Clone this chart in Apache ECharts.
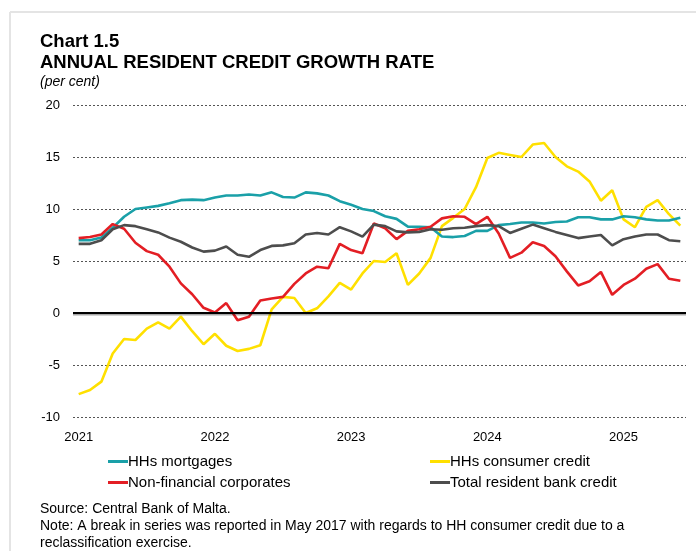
<!DOCTYPE html>
<html>
<head>
<meta charset="utf-8">
<script src="https://cdn.jsdelivr.net/npm/echarts@6/dist/echarts.min.js"></script>
<style>
html,body{margin:0;padding:0;background:#fff;}
#chart{width:696px;height:551px;}
</style>
</head>
<body>
<div id="chart"></div>
<script>
// Monthly categories Jan 2021 .. Jun 2025
const years = ['2021','2022','2023','2024','2025'];
const months = [];
for (const y of years) {
  for (let m = 1; m <= 12; m++) {
    if (y === '2025' && m > 6) break;
    months.push(y + '-' + String(m).padStart(2, '0'));
  }
}
const yTicks = [-10, -5, 0, 5, 10, 15, 20];

const mortgages = [7.0,7.0,7.25,8.2,9.25,10.0,10.15,10.3,10.55,10.85,
  10.9,10.85,11.1,11.3,11.3,11.4,11.3,11.6,11.15,11.1,
  11.6,11.5,11.3,10.75,10.4,10.0,9.8,9.3,9.05,8.3,
  8.3,8.25,7.35,7.3,7.4,7.9,7.9,8.45,8.55,8.7,
  8.7,8.6,8.75,8.8,9.2,9.2,9.0,9.0,9.3,9.2,
  9.0,8.9,8.9,9.15];
const consumer = [-7.8,-7.4,-6.6,-3.9,-2.5,-2.6,-1.5,-0.9,-1.5,-0.35,
  -1.75,-3.0,-2.0,-3.15,-3.65,-3.45,-3.1,0.35,1.55,1.45,
  0.0,0.45,1.6,2.9,2.25,3.8,5.0,4.9,5.75,2.7,
  3.8,5.3,8.35,9.15,10.0,12.1,14.9,15.4,15.2,15.0,
  16.2,16.35,15.0,14.1,13.6,12.65,10.8,11.8,9.0,8.25,
  10.2,10.85,9.5,8.4];
const nfc = [7.2,7.3,7.55,8.55,8.1,6.75,5.95,5.6,4.45,2.85,
  1.8,0.5,0.05,0.95,-0.7,-0.35,1.2,1.4,1.55,2.8,
  3.8,4.45,4.3,6.65,6.05,5.75,8.6,8.15,7.1,7.9,
  8.05,8.3,9.1,9.3,9.25,8.55,9.25,7.65,5.3,5.8,
  6.8,6.45,5.45,4.0,2.65,3.05,3.95,1.75,2.7,3.3,
  4.25,4.7,3.3,3.1];
const total = [6.65,6.65,7.0,8.05,8.45,8.35,8.05,7.75,7.25,6.85,
  6.3,5.9,6.0,6.4,5.6,5.4,6.05,6.45,6.5,6.7,
  7.55,7.7,7.55,8.25,7.85,7.35,8.5,8.35,7.85,7.75,
  7.8,8.05,8.0,8.15,8.2,8.35,8.45,8.35,7.7,8.1,
  8.5,8.15,7.8,7.5,7.2,7.35,7.5,6.5,7.1,7.35,
  7.55,7.55,7.0,6.9];

const names = ['HHs mortgages','HHs consumer credit','Non-financial corporates','Total resident bank credit'];
const colors = ['#1AA0A8','#FFE000','#E31E24','#4D4D4D'];
const dataSets = [mortgages, consumer, nfc, total];
const FONT = '"Liberation Sans", Arial, sans-serif';

const chart = echarts.init(document.getElementById('chart'));

const series = dataSets.map((d, i) => ({
  name: names[i],
  type: 'line',
  data: d,
  symbol: 'none',
  smooth: false,
  lineStyle: { color: colors[i], width: 2.6 },
  itemStyle: { color: colors[i] },
  z: [3, 2, 4, 5][i]
}));
// zero line
series[0].markLine = {
  silent: true,
  symbol: 'none',
  label: { show: false },
  lineStyle: { color: '#000', width: 2, type: 'solid', shadowColor: 'rgba(0,0,0,0.35)', shadowOffsetY: 1.5, shadowBlur: 0 },
  data: [{ yAxis: 0 }]
};

const legendText = { fontFamily: FONT, fontSize: 15, color: '#000', padding: [0, 0, 0, -5] };

chart.setOption({
  animation: false,
  backgroundColor: '#fff',
  grid: { left: 73, right: 10, top: 105, bottom: 134, containLabel: false },
  xAxis: {
    type: 'category',
    data: months,
    boundaryGap: true,
    axisLine: { show: false },
    axisTick: { show: false },
    axisLabel: {
      interval: 11,
      margin: 14,
      fontFamily: FONT, fontSize: 13, color: '#000',
      formatter: v => v.slice(0, 4)
    },
    splitLine: { show: false }
  },
  yAxis: {
    type: 'value',
    min: yTicks[0], max: yTicks[yTicks.length - 1], interval: 5,
    axisLine: { show: false },
    axisTick: { show: false },
    axisLabel: { margin: 13, fontFamily: FONT, fontSize: 13, color: '#000' },
    splitLine: { lineStyle: { color: '#555', width: 1, type: [2, 2] } }
  },
  legend: [
    {
      left: 103, top: 449, orient: 'vertical', itemGap: 6,
      itemWidth: 20, itemHeight: 3, icon: 'rect',
      data: [names[0], names[2]], textStyle: legendText
    },
    {
      left: 425, top: 449, orient: 'vertical', itemGap: 6,
      itemWidth: 20, itemHeight: 3, icon: 'rect',
      data: [names[1], names[3]], textStyle: legendText
    }
  ],
  graphic: [
    { type: 'line', shape: { x1: 10, y1: 12, x2: 696, y2: 12 }, style: { stroke: '#e4e4e4', lineWidth: 2 } },
    { type: 'line', shape: { x1: 10, y1: 12, x2: 10, y2: 551 }, style: { stroke: '#e4e4e4', lineWidth: 2 } },
    { type: 'text', left: 40, top: 32, style: { text: 'Chart 1.5', font: 'bold 18.5px ' + FONT, fill: '#000' } },
    { type: 'text', left: 40, top: 53, style: { text: 'ANNUAL RESIDENT CREDIT GROWTH RATE', font: 'bold 18.5px ' + FONT, fill: '#000' } },
    { type: 'text', left: 40, top: 75, style: { text: '(per cent)', font: 'italic 14px ' + FONT, fill: '#000' } },
    { type: 'text', left: 40, top: 502, style: { text: 'Source: Central Bank of Malta.', font: '14px ' + FONT, fill: '#000' } },
    { type: 'text', left: 40, top: 519, style: { text: 'Note: A break in series was reported in May 2017 with regards to HH consumer credit due to a', font: '14px ' + FONT, fill: '#000' } },
    { type: 'text', left: 40, top: 536, style: { text: 'reclassification exercise.', font: '14px ' + FONT, fill: '#000' } }
  ],
  series: series
});
</script>
</body>
</html>
